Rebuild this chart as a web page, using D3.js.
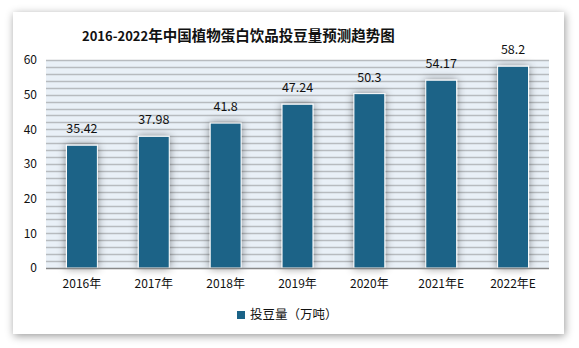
<!DOCTYPE html>
<html><head><meta charset="utf-8">
<script src="https://cdn.jsdelivr.net/npm/d3@7"></script>
<style>
html,body{margin:0;padding:0;background:#fff;}
svg{display:block;}
text{font-family:"Noto Sans CJK SC","Noto Sans",sans-serif;fill:#111;}
</style></head>
<body>
<svg id="chart" width="579" height="348"></svg>
<script>
const categories = ["2016年","2017年","2018年","2019年","2020年","2021年E","2022年E"];
const values = [35.42, 37.98, 41.8, 47.24, 50.3, 54.17, 58.2];
const valueLabels = ["35.42","37.98","41.8","47.24","50.3","54.17","58.2"];
const yTicks = [0,10,20,30,40,50,60];
const stripeValues = d3.range(0, 61, 2);
const titleYears = "2016-2022";
const titleRest = "年中国植物蛋白饮品投豆量预测趋势图";
const seriesName = "投豆量（万吨）";

const svg = d3.select("#chart");
const defs = svg.append("defs");

const cardF = defs.append("filter").attr("id","cardShadow").attr("x","-10%").attr("y","-10%").attr("width","125%").attr("height","125%");
cardF.append("feDropShadow").attr("dx",1).attr("dy",2).attr("stdDeviation",4).attr("flood-color","#000").attr("flood-opacity",0.4);

const barF = defs.append("filter").attr("id","barShadow").attr("x","-60%").attr("y","-20%").attr("width","220%").attr("height","140%");
barF.append("feDropShadow").attr("dx",0).attr("dy",0).attr("stdDeviation",4).attr("flood-color","#000").attr("flood-opacity",0.45);

// card
svg.append("rect").attr("x",13).attr("y",12).attr("width",551).attr("height",322)
  .attr("fill","#fff").attr("filter","url(#cardShadow)");

const plot = {left:46, right:549, top:60, bottom:268};
const x = d3.scaleBand().domain(categories).range([plot.left, plot.right]).paddingInner(0.57).paddingOuter(0.285);
const y = d3.scaleLinear().domain([0,60]).range([plot.bottom, plot.top]);

// plot background
svg.append("rect").attr("x",plot.left).attr("y",plot.top).attr("width",plot.right-plot.left).attr("height",plot.bottom-plot.top)
  .attr("fill","#e9f0f7");

// stripes
svg.append("g").selectAll("line").data(stripeValues.filter(v=>v>0)).join("line")
  .attr("x1",plot.left).attr("x2",plot.right)
  .attr("y1",d=>Math.round(y(d))+0.5).attr("y2",d=>Math.round(y(d))+0.5)
  .attr("stroke","#b7bbbf").attr("stroke-width",1.5);

// bars
svg.append("g").selectAll("rect").data(values).join("rect")
  .attr("x",(d,i)=>x(categories[i]))
  .attr("y",d=>y(d))
  .attr("width",x.bandwidth())
  .attr("height",d=>y(0)-y(d))
  .attr("fill","#1b6387")
  .attr("stroke","#fff").attr("stroke-width",1)
  .attr("filter","url(#barShadow)");

// value labels
svg.append("g").selectAll("text").data(values).join("text")
  .attr("x",(d,i)=>x(categories[i])+x.bandwidth()/2)
  .attr("y",d=>y(d)-12)
  .attr("text-anchor","middle")
  .attr("font-size",12.5)
  .text((d,i)=>valueLabels[i]);

// y axis
const yAxis = d3.axisLeft(y).tickValues(yTicks).tickSize(0).tickPadding(9);
const gy = svg.append("g").attr("transform",`translate(${plot.left},0)`).call(yAxis);
gy.select(".domain").remove();
gy.selectAll("text").attr("font-size",12).attr("font-family",'"Noto Sans CJK SC",sans-serif').attr("fill","#111");

// x axis
const xAxis = d3.axisBottom(x).tickSize(0).tickPadding(11);
const gx = svg.append("g").attr("transform",`translate(0,${plot.bottom})`).call(xAxis);
gx.select(".domain").attr("stroke","#888").attr("stroke-width",1.5).attr("d",`M${plot.left},0.5H${plot.right}`);
gx.selectAll("text").attr("font-size",12).attr("font-family",'"Noto Sans CJK SC",sans-serif').attr("fill","#111");

// title
const t = svg.append("text").attr("x",82).attr("y",41).attr("font-weight","bold");
t.append("tspan").attr("font-size",13).text(titleYears);
t.append("tspan").attr("font-size",14.5).text(titleRest);

// legend
svg.append("rect").attr("x",237).attr("y",311).attr("width",8).attr("height",8).attr("fill","#1b6387");
svg.append("text").attr("x",250).attr("y",319).attr("font-size",12.5).text(seriesName);
</script>
</body></html>
